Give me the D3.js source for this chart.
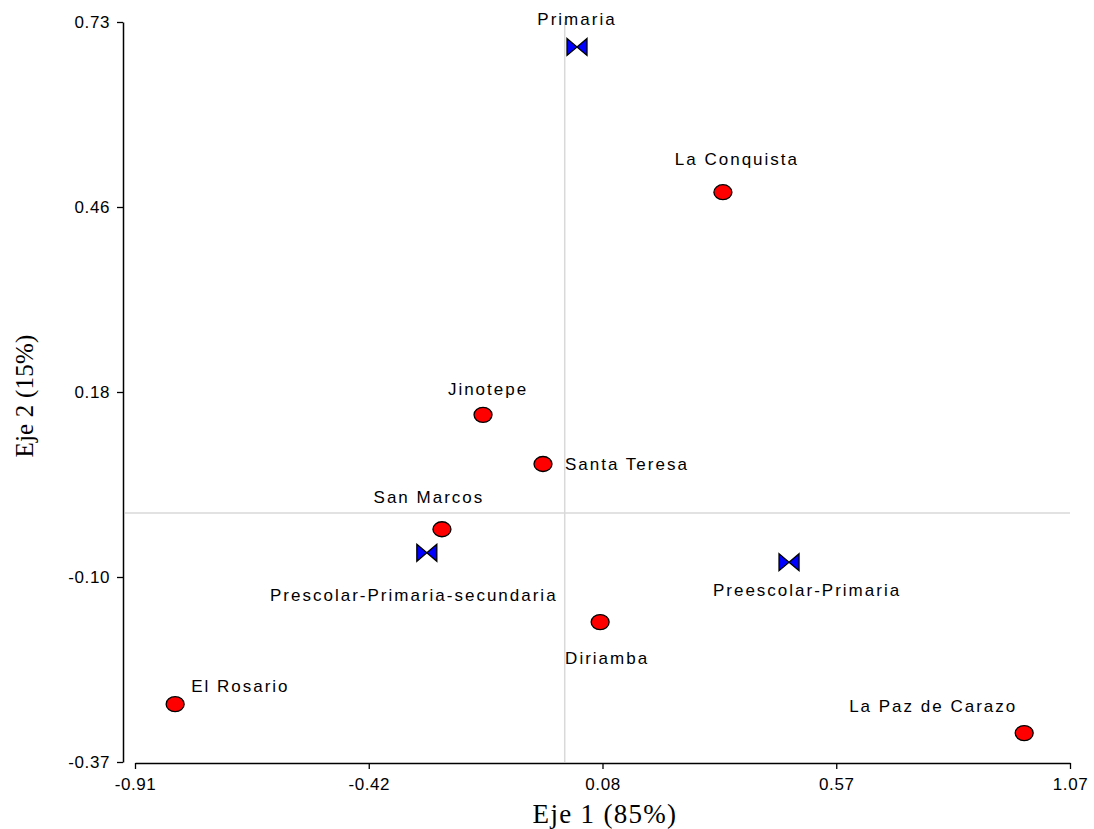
<!DOCTYPE html>
<html>
<head>
<meta charset="utf-8">
<script src="https://cdn.jsdelivr.net/npm/d3@7"></script>
<style>
  body { margin: 0; background: #fff; }
  svg { display: block; }
</style>
</head>
<body>
<script>
// Correspondence analysis map: municipalities vs. school levels
const names = ["Primaria", "La Conquista", "Jinotepe", "Santa Teresa", "San Marcos",
  "Prescolar-Primaria-secundaria", "Preescolar-Primaria", "Diriamba", "El Rosario", "La Paz de Carazo"];
const kinds = ["col", "row", "row", "row", "row", "col", "col", "row", "row", "row"];
const eje1 = [0.026, 0.335, -0.173, -0.046, -0.260, -0.292, 0.475, 0.075, -0.825, 0.973];
const eje2 = [0.693, 0.477, 0.146, 0.073, -0.024, -0.059, -0.073, -0.162, -0.284, -0.327];

const xTickLabels = ["-0.91", "-0.42", "0.08", "0.57", "1.07"];
const yTickLabels = ["-0.37", "-0.10", "0.18", "0.46", "0.73"];
const xDomain = [-0.91, 1.07];
const yDomain = [-0.37, 0.73];

// label placement relative to each marker: [dx, dy, anchor]
const labelPlace = [
  [0, -28, "middle"], [14, -33, "middle"], [5, -26, "middle"], [22, 0, "start"],
  [-13, -32, "middle"], [-13, 42, "middle"], [18, 28, "middle"], [7, 36, "middle"],
  [16, -18, "start"], [-91, -27, "middle"]
];

const W = 1094, H = 829;
const svg = d3.select("body").append("svg").attr("width", W).attr("height", H);

const x = d3.scaleLinear().domain(xDomain).range([135, 1070]);
const y = d3.scaleLinear().domain(yDomain).range([762, 22]);

const xTicks = d3.range(5).map(i => xDomain[0] + i * (xDomain[1] - xDomain[0]) / 4);
const yTicks = d3.range(5).map(i => yDomain[0] + i * (yDomain[1] - yDomain[0]) / 4);

// reference lines through the origin
svg.append("line").attr("x1", x(0)).attr("x2", x(0)).attr("y1", y(yDomain[1])).attr("y2", y(yDomain[0]))
  .attr("stroke", "#d9d9d9").attr("stroke-width", 1.5);
svg.append("line").attr("x1", 125).attr("x2", x(xDomain[1])).attr("y1", y(0)).attr("y2", y(0))
  .attr("stroke", "#d9d9d9").attr("stroke-width", 1.5);

// axes
const xAxis = d3.axisBottom(x).tickValues(xTicks).tickSize(6).tickSizeOuter(0)
  .tickFormat((d, i) => xTickLabels[i]);
const yAxis = d3.axisLeft(y).tickValues(yTicks).tickSize(6).tickSizeOuter(0)
  .tickFormat((d, i) => yTickLabels[i]);

const gx = svg.append("g").attr("transform", "translate(0,763)").call(xAxis);
const gy = svg.append("g").attr("transform", "translate(123,0)").call(yAxis);
[gx, gy].forEach(g => {
  g.select(".domain").attr("stroke", "#000").attr("stroke-width", 1.5);
  g.selectAll(".tick line").attr("stroke", "#000").attr("stroke-width", 1.3);
  g.selectAll(".tick text").attr("fill", "#000")
    .style("font-family", "'Liberation Sans', Arial, sans-serif").style("font-size", "17px")
    .style("letter-spacing", "0.6px");
});
gx.selectAll(".tick text").attr("y", 15).attr("dy", "0.71em");
gy.selectAll(".tick text").attr("x", -13);

// axis titles
svg.append("text").attr("x", 605).attr("y", 823)
  .attr("text-anchor", "middle").style("font-family", "'Liberation Serif', 'Times New Roman', serif")
  .style("font-size", "27px").style("letter-spacing", "1.3px").text("Eje 1 (85%)");
svg.append("text").attr("transform", "translate(33,396) rotate(-90)")
  .attr("text-anchor", "middle").style("font-family", "'Liberation Serif', 'Times New Roman', serif")
  .style("font-size", "25px").style("letter-spacing", "0.2px").text("Eje 2 (15%)");

const pts = names.map((n, i) => ({ name: n, kind: kinds[i], px: x(eje1[i]), py: y(eje2[i]), lp: labelPlace[i] }));

// labels
svg.append("g").selectAll("text").data(pts).join("text")
  .attr("x", d => d.px + d.lp[0]).attr("y", d => d.py + d.lp[1])
  .attr("dy", "0.35em").attr("text-anchor", d => d.lp[2])
  .style("font-family", "'Liberation Sans', Arial, sans-serif").style("font-size", "17px")
  .style("letter-spacing", "2px")
  .attr("fill", "#000").text(d => d.name);

// municipalities: red ellipses
svg.append("g").selectAll("ellipse").data(pts.filter(d => d.kind === "row")).join("ellipse")
  .attr("cx", d => d.px).attr("cy", d => d.py).attr("rx", 9).attr("ry", 7.5)
  .attr("fill", "#ff0000").attr("stroke", "#000").attr("stroke-width", 1.3);

// school levels: blue bowties
const bow = (cx, cy) => {
  const w = 10, h = 8.5;
  return `M${cx - w},${cy - h}L${cx},${cy}L${cx - w},${cy + h}Z M${cx + w},${cy - h}L${cx},${cy}L${cx + w},${cy + h}Z`;
};
svg.append("g").selectAll("path").data(pts.filter(d => d.kind === "col")).join("path")
  .attr("d", d => bow(d.px, d.py))
  .attr("fill", "#0000ff").attr("stroke", "#000").attr("stroke-width", 1.3).attr("stroke-linejoin", "miter");
</script>
</body>
</html>
